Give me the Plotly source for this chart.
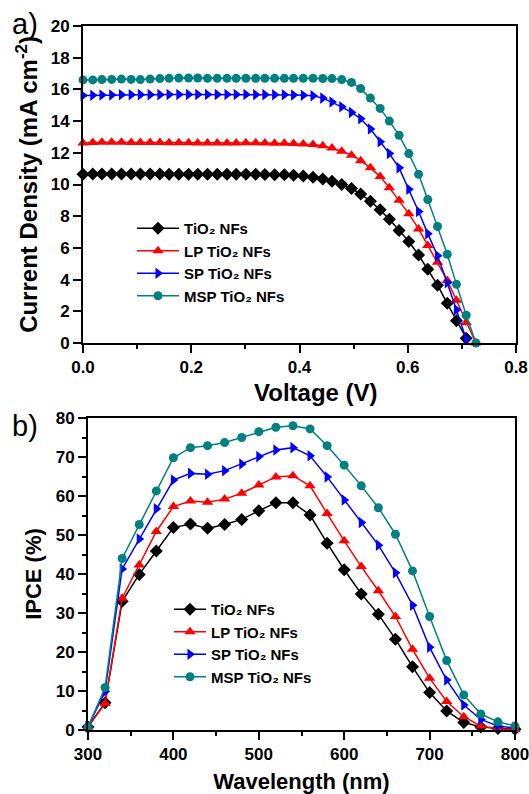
import plotly.graph_objects as go

# ---------------- Panel a) J-V data ----------------
voltage = [0.000, 0.018, 0.035, 0.053, 0.071, 0.089, 0.106, 0.124, 0.142, 0.159,
           0.177, 0.195, 0.212, 0.230, 0.248, 0.266, 0.283, 0.301, 0.319, 0.336,
           0.354, 0.372, 0.389, 0.407, 0.425, 0.443, 0.460, 0.478, 0.496, 0.513,
           0.531, 0.549, 0.566, 0.584, 0.602, 0.620, 0.637, 0.655, 0.673, 0.690,
           0.708, 0.726]

j_tio2 = [10.65, 10.66, 10.67, 10.67, 10.67, 10.66, 10.66, 10.66, 10.66, 10.65,
          10.65, 10.65, 10.65, 10.65, 10.65, 10.65, 10.65, 10.64, 10.64, 10.63,
          10.62, 10.61, 10.58, 10.53, 10.45, 10.35, 10.20, 10.00, 9.75, 9.40,
          8.95, 8.40, 7.80, 7.10, 6.40, 5.55, 4.65, 3.65, 2.50, 1.40, 0.30]
j_lp = [12.62, 12.65, 12.66, 12.66, 12.66, 12.65, 12.65, 12.65, 12.65, 12.64,
        12.64, 12.63, 12.62, 12.62, 12.62, 12.62, 12.62, 12.63, 12.63, 12.62,
        12.61, 12.60, 12.58, 12.56, 12.53, 12.45, 12.30, 12.10, 11.85, 11.50,
        11.05, 10.50, 9.80, 9.00, 8.15, 7.20, 6.15, 5.10, 3.95, 2.70, 1.30, 0.00]
j_sp = [15.62, 15.63, 15.65, 15.65, 15.66, 15.66, 15.67, 15.67, 15.67, 15.68,
        15.68, 15.68, 15.68, 15.68, 15.68, 15.68, 15.68, 15.68, 15.67, 15.67,
        15.66, 15.66, 15.65, 15.63, 15.60, 15.45, 15.20, 14.90, 14.55, 14.15,
        13.50, 12.70, 11.95, 11.05, 9.70, 8.30, 6.90, 5.50, 3.80, 2.10, 0.25]
j_msp = [16.60, 16.60, 16.62, 16.63, 16.65, 16.63, 16.62, 16.65, 16.68, 16.70,
         16.72, 16.72, 16.72, 16.70, 16.70, 16.70, 16.70, 16.70, 16.70, 16.70,
         16.70, 16.70, 16.70, 16.70, 16.70, 16.69, 16.68, 16.62, 16.44, 16.05,
         15.45, 14.80, 14.00, 13.10, 11.95, 10.65, 9.05, 7.35, 5.60, 3.70,
         1.75, 0.00]

# ---------------- Panel b) IPCE data ----------------
wavelength = [300, 320, 340, 360, 380, 400, 420, 440, 460, 480, 500, 520, 540,
              560, 580, 600, 620, 640, 660, 680, 700, 720, 740, 760, 780, 800]
ipce_tio2 = [0.8, 7.0, 33.0, 39.9, 45.9, 51.9, 52.8, 51.7, 52.7, 54.0, 56.2, 58.3, 58.3,
             55.1, 47.9, 41.1, 34.9, 29.7, 23.3, 16.2, 9.6, 4.9, 1.9, 0.8, 0.4, 0.2]
ipce_lp = [0.8, 6.8, 33.8, 42.3, 50.9, 57.3, 58.7, 58.4, 59.2, 60.7, 62.8, 64.9, 65.2,
           62.6, 55.5, 48.5, 41.9, 35.7, 29.1, 20.7, 13.3, 7.3, 3.4, 1.0, 0.3, 0.1]
ipce_sp = [0.8, 9.9, 41.3, 49.0, 56.7, 64.1, 65.8, 65.6, 66.5, 68.2, 70.1, 71.8, 72.4,
           70.3, 64.9, 59.0, 53.2, 47.4, 40.3, 32.0, 21.2, 12.8, 6.4, 2.7, 1.0, 0.5]
ipce_msp = [0.8, 10.9, 44.0, 52.7, 61.3, 69.8, 72.4, 72.9, 73.7, 75.0, 76.5, 77.6, 78.0,
            77.2, 72.9, 67.9, 62.6, 57.0, 50.2, 40.8, 29.1, 17.8, 9.0, 4.1, 2.1, 1.0]

names = ["TiO₂ NFs", "LP TiO₂ NFs", "SP TiO₂ NFs", "MSP TiO₂ NFs"]
colors = ["#000000", "#ff0000", "#0000ff", "#008080"]
symbols = ["diamond", "triangle-up", "triangle-right", "circle"]
msizes = [10, 10, 10, 9]

FONT = "Liberation Sans, Arial, sans-serif"

fig = go.Figure()

jv = [j_tio2, j_lp, j_sp, j_msp]
for i in range(4):
    fig.add_trace(go.Scatter(
        x=voltage[:len(jv[i])], y=jv[i], mode="lines+markers", name=names[i],
        line=dict(color=colors[i], width=1.5),
        marker=dict(symbol=symbols[i], size=msizes[i], color=colors[i]),
        xaxis="x", yaxis="y", legend="legend", cliponaxis=False))

ip = [ipce_tio2, ipce_lp, ipce_sp, ipce_msp]
for i in range(4):
    fig.add_trace(go.Scatter(
        x=wavelength, y=ip[i], mode="lines+markers", name=names[i],
        line=dict(color=colors[i], width=1.5),
        marker=dict(symbol=symbols[i], size=msizes[i], color=colors[i]),
        xaxis="x2", yaxis="y2", legend="legend2", cliponaxis=False))

W, H = 529, 794
def px(x): return x / W
def py(y): return 1 - y / H

tickfont = dict(family=FONT, size=17, color="black", weight="bold")
axcommon = dict(showline=True, linecolor="black", linewidth=2, mirror=True,
                ticks="outside", ticklen=8, tickwidth=2, tickcolor="black",
                showgrid=False, zeroline=False, tickfont=tickfont, automargin=False,
                ticklabeloverflow="allow")
minor_style = dict(ticks="outside", ticklen=4, tickwidth=2, tickcolor="black")

legfont = dict(family=FONT, size=15, color="black", weight="bold")

fig.update_layout(
    width=W, height=H,
    margin=dict(l=0, r=0, t=0, b=0),
    paper_bgcolor="white", plot_bgcolor="white",
    xaxis=dict(domain=[px(83), px(516)], anchor="y", range=[0, 0.8],
               tickvals=[0, 0.2, 0.4, 0.6, 0.8], ticktext=["0.0", "0.2", "0.4", "0.6", "0.8"],
               minor=dict(tickvals=[0.1, 0.3, 0.5, 0.7], **minor_style), **axcommon),
    yaxis=dict(domain=[py(343), py(26)], anchor="x", range=[0, 20], dtick=2,
               title=dict(text="Current Density (mA cm<sup>-2</sup>)",
                          font=dict(family=FONT, size=24, color="black", weight="bold"), standoff=6),
               **axcommon),
    xaxis2=dict(domain=[px(88), px(515)], anchor="y2", range=[300, 800], dtick=100,
                minor=dict(dtick=50, **minor_style),
                title=dict(text="Wavelength (nm)", font=dict(family=FONT, size=22, color="black", weight="bold"),
                           standoff=10), **axcommon),
    yaxis2=dict(domain=[py(730), py(418)], anchor="x2", range=[0, 80], dtick=10,
                minor=dict(dtick=5, **minor_style),
                title=dict(text="IPCE (%)", font=dict(family=FONT, size=22, color="black", weight="bold"),
                           standoff=8), **axcommon),
    legend=dict(x=px(132), y=py(212), xanchor="left", yanchor="top",
                bgcolor="rgba(0,0,0,0)", font=legfont, tracegroupgap=0, itemwidth=42),
    legend2=dict(x=px(169), y=py(593), xanchor="left", yanchor="top",
                 bgcolor="rgba(0,0,0,0)", font=legfont, tracegroupgap=0, itemwidth=32),
    annotations=[
        dict(text="Voltage (V)", x=px(316), y=py(392), xref="paper", yref="paper",
             xanchor="center", yanchor="middle", showarrow=False,
             font=dict(family=FONT, size=24, color="black", weight="bold")),
        dict(text="a)", x=px(10), y=py(6), xref="paper", yref="paper", xanchor="left", yanchor="top",
             showarrow=False, font=dict(family=FONT, size=29, color="black")),
        dict(text="b)", x=px(10), y=py(408), xref="paper", yref="paper", xanchor="left", yanchor="top",
             showarrow=False, font=dict(family=FONT, size=29, color="black")),
    ],
)

fig.write_html("out.html", config={"displayModeBar": False},
               post_script="document.body.style.margin='0px';")
